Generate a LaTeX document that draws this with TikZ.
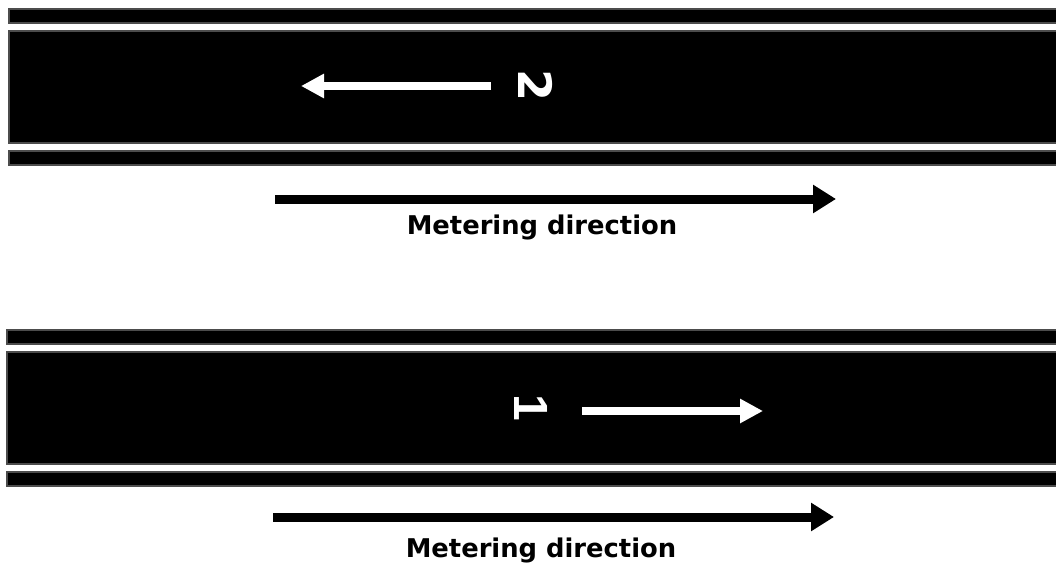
\documentclass[tikz,border=0pt]{standalone}
\usepackage{fontspec}
\setmainfont{DejaVu Sans}
\newfontfamily\onefont{Liberation Sans}
\usetikzlibrary{arrows.meta}
\begin{document}
\begin{tikzpicture}[x=1pt,y=-1pt,
  lane/.style={fill=black,draw=black!70,line width=1.2pt},
  whitearrow/.style={draw=white,line width=8pt,-{Triangle[length=23pt,width=23pt]}},
  blackarrow/.style={draw=black,line width=9pt,-{Triangle[length=23pt,width=27pt]}},
  caption/.style={font=\bfseries\fontsize{25.8}{30}\selectfont,inner sep=0pt},
  digit/.style={text=white,font=\bfseries\fontsize{46}{50}\selectfont,inner sep=0pt,rotate=-90}]
\useasboundingbox (0,0) rectangle (1056,564);
% top road
\path[lane] (9,9) rectangle (1060,23);
\path[lane] (9,31) rectangle (1060,143);
\path[lane] (9,151) rectangle (1060,165);
\coordinate (t1s) at (491,86);
\coordinate (t1e) at (301,86);
\draw[whitearrow] (t1s) -- (t1e);
\node[digit] (d2) at (536,85.5) {2};
\coordinate (m1s) at (275,199);
\coordinate (m1e) at (836,199);
\draw[blackarrow] (m1s) -- (m1e);
\node[caption] (c1) at (542,227) {Metering direction};
% bottom road
\path[lane] (7,330) rectangle (1060,344);
\path[lane] (7,352) rectangle (1060,464);
\path[lane] (7,472) rectangle (1060,486);
\coordinate (t2s) at (582,411);
\coordinate (t2e) at (763,411);
\draw[whitearrow] (t2s) -- (t2e);
\node[digit,font=\onefont\bfseries\fontsize{48}{50}\selectfont] (d1) at (531,408) {1};
\coordinate (m2s) at (273,517);
\coordinate (m2e) at (834,517);
\draw[blackarrow] (m2s) -- (m2e);
\node[caption] (c2) at (541,550) {Metering direction};
\end{tikzpicture}
\end{document}
